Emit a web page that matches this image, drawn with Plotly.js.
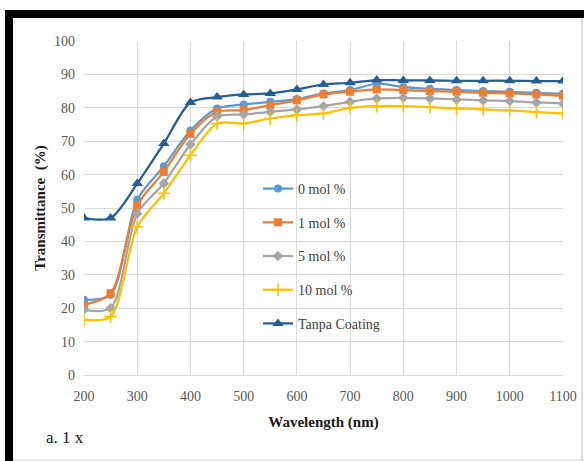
<!DOCTYPE html>
<html>
<head>
<meta charset="utf-8">
<script src="https://cdn.plot.ly/plotly-3.0.1.min.js"></script>
<style>
  html, body { margin: 0; padding: 0; background: #fff; }
  #chart { width: 584px; height: 461px; }
</style>
</head>
<body>
<div id="chart"></div>
<script>
// Wavelength grid (nm)
const wavelength = [200, 250, 300, 350, 400, 450, 500, 550, 600, 650, 700, 750, 800, 850, 900, 950, 1000, 1050, 1100];

// Transmittance (%) for each coating
const mol0   = [22.5, 24, 52.5, 62.5, 73.2, 79.8, 81, 81.8, 82.6, 84.3, 85.3, 87.2, 86.2, 85.7, 85.3, 85, 84.8, 84.5, 84.2];
const mol1   = [21, 24.5, 50.8, 60.8, 72.2, 78.8, 79.3, 80.8, 82.2, 84, 84.8, 85.5, 85.3, 85, 84.8, 84.5, 84.3, 84, 83.6];
const mol5   = [19.5, 20, 48.3, 57.4, 69, 77.4, 78, 78.8, 79.5, 80.5, 81.8, 82.8, 83, 82.8, 82.5, 82.2, 82, 81.6, 81.3];
const mol10  = [16.5, 17.5, 44.4, 54.4, 65.8, 75.3, 75.3, 76.8, 77.8, 78.3, 80, 80.5, 80.5, 80.2, 79.8, 79.5, 79.2, 78.7, 78.3];
const tanpa  = [47, 47, 57.3, 69.3, 81.6, 83.2, 84, 84.3, 85.5, 87, 87.5, 88.3, 88.2, 88.2, 88.1, 88.1, 88.1, 88, 88];

const seriesNames = ['0 mol %', '1 mol %', '5 mol %', '10 mol %', 'Tanpa Coating'];

const serif = 'Liberation Serif, Times New Roman, serif';

function series(name, y, color, symbol, size, group) {
  return {
    x: wavelength, y: y, name: name, type: 'scatter', mode: 'lines+markers',
    legendgroup: group,
    line: { color: color, width: 2.25, shape: 'spline', smoothing: 0.8 },
    marker: symbol === 'cross-thin'
      ? { symbol: symbol, size: size, color: color, line: { color: color, width: 1.6 } }
      : { symbol: symbol, size: size, color: color }
  };
}

const data = [
  series(seriesNames[0], mol0,  '#5B9BD5', 'circle', 8, 'a'),
  series(seriesNames[1], mol1,  '#ED7D31', 'square', 8, 'b'),
  series(seriesNames[2], mol5,  '#A5A5A5', 'diamond', 8, 'c'),
  series(seriesNames[3], mol10, '#FFC000', 'cross-thin', 9, 'd'),
  series(seriesNames[4], tanpa, '#255E91', 'triangle-up', 10, 'e')
];

// pixel -> paper helpers for the frame decoration (plot area 84..563 x 41..375)
const px = v => (v - 84) / 479;
const py = v => (375 - v) / 334;

const layout = {
  width: 584, height: 461,
  margin: { l: 84, r: 21, t: 41, b: 86 },
  paper_bgcolor: '#ffffff',
  plot_bgcolor: '#ffffff',
  showlegend: true,
  legend: {
    x: px(258), y: py(173), xanchor: 'left', yanchor: 'top',
    bgcolor: 'rgba(0,0,0,0)',
    font: { family: serif, size: 14, color: '#404040' },
    tracegroupgap: 12.5,
    itemwidth: 30
  },
  xaxis: {
    range: [200, 1100], dtick: 100, tick0: 200,
    showgrid: true, gridcolor: '#d9d9d9', gridwidth: 1,
    zeroline: false, showline: true, linecolor: '#d9d9d9', linewidth: 1,
    ticks: '', ticklen: 0, ticklabelstandoff: 8,
    tickfont: { family: serif, size: 14, color: '#595959' },
    title: { text: '<b>Wavelength (nm)</b>', font: { family: serif, size: 15, color: '#1a1a1a' }, standoff: 13 }
  },
  yaxis: {
    range: [0, 100], dtick: 10,
    showgrid: true, gridcolor: '#d9d9d9', gridwidth: 1,
    zeroline: false, showline: false,
    ticks: '', ticklen: 0, ticklabelstandoff: 8,
    tickfont: { family: serif, size: 14, color: '#595959' },
    title: { text: '<b>Transmittance  (%)</b>', font: { family: serif, size: 15, color: '#1a1a1a' }, standoff: 4 }
  },
  shapes: [
    // thick black frame along the top and left side
    { type: 'rect', xref: 'paper', yref: 'paper', x0: px(5), x1: px(584), y0: py(10), y1: py(18),
      fillcolor: '#000', line: { width: 0 }, layer: 'above' },
    { type: 'rect', xref: 'paper', yref: 'paper', x0: px(5), x1: px(13), y0: py(10), y1: py(461),
      fillcolor: '#000', line: { width: 0 }, layer: 'above' },
    // thin grey edges on the right and bottom
    { type: 'line', xref: 'paper', yref: 'paper', x0: px(582), x1: px(582), y0: py(18), y1: py(461),
      line: { color: '#bfbfbf', width: 1 } },
    { type: 'line', xref: 'paper', yref: 'paper', x0: px(13), x1: px(584), y0: py(460), y1: py(460),
      line: { color: '#d0d0d0', width: 1 } }
  ],
  annotations: [
    { text: 'a. 1 x', xref: 'paper', yref: 'paper', x: px(44), y: py(437),
      xanchor: 'left', yanchor: 'middle', showarrow: false,
      font: { family: serif, size: 17, color: '#1a1a1a' } },
    { text: 'I', xref: 'paper', yref: 'paper', x: px(8), y: py(5),
      xanchor: 'left', yanchor: 'bottom', showarrow: false,
      font: { family: serif, size: 18, color: '#1a1a1a' } }
  ]
};

Plotly.newPlot('chart', data, layout, { staticPlot: true, displayModeBar: false });
</script>
</body>
</html>
